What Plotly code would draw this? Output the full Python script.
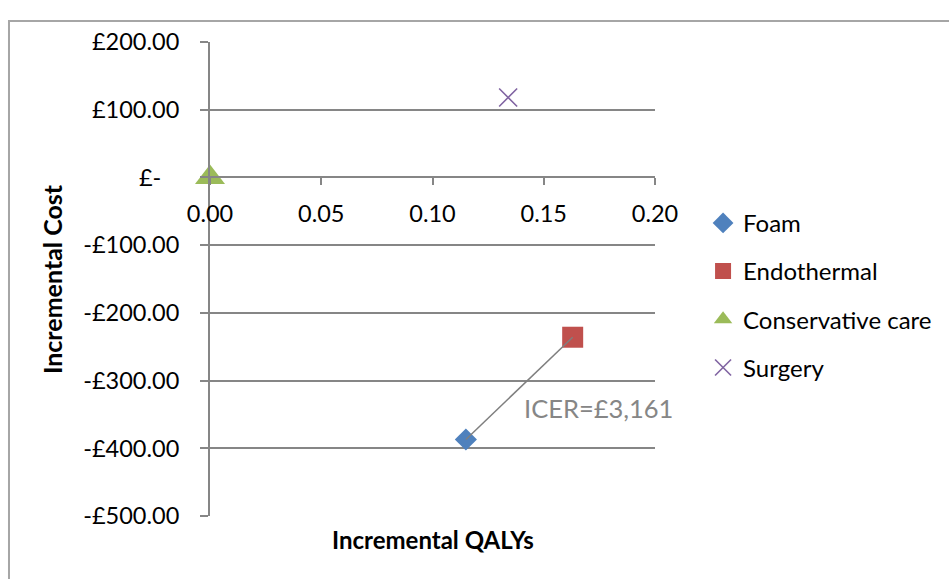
import plotly.graph_objects as go

# ---- data ----
series_names = ["Foam", "Endothermal", "Conservative care", "Surgery"]
qalys = [0.115, 0.163, 0.0, 0.134]
costs = [-387, -236, 0, 118]
colors = ["#4F81BD", "#C0504D", "#9BBB59", "#8064A2"]
symbols = ["diamond", "square", "triangle-up", "x-thin-open"]
sizes = [17, 21, 26, 18]

y_tickvals = [200, 100, 0, -100, -200, -300, -400, -500]
y_ticktext = ["£200.00", "£100.00", "£-\u00a0\u00a0\u00a0", "-£100.00", "-£200.00",
              "-£300.00", "-£400.00", "-£500.00"]
x_tickvals = [0.0, 0.05, 0.10, 0.15, 0.20]
x_ticktext = ["0.00", "0.05", "0.10", "0.15", "0.20"]

icer_label = "ICER=£3,161"
icer_pos = (0.1745, -341)

FONT = "Lato"
GRAY = "#868686"

fig = go.Figure()
for i, name in enumerate(series_names):
    marker = dict(color=colors[i], size=sizes[i], symbol=symbols[i])
    if symbols[i] == "x-thin-open":
        marker["line"] = dict(color=colors[i], width=1.6)
    fig.add_trace(go.Scatter(x=[qalys[i]], y=[costs[i]], mode="markers", name=name,
                             marker=marker, legendgroup=name, cliponaxis=False))

# line between Foam and Endothermal
fig.add_trace(go.Scatter(x=[qalys[0], qalys[1]], y=[costs[0], costs[1]], mode="lines",
                         line=dict(color="#7F7F7F", width=1.5), showlegend=False,
                         hoverinfo="skip"))

y_min, y_max = -500, 200
fig.update_layout(
    width=949, height=579,
    margin=dict(l=210, r=294, t=42, b=63),
    paper_bgcolor="white", plot_bgcolor="white",
    font=dict(family=FONT, size=23, color="black"),
    xaxis=dict(range=[0, 0.2], tickvals=x_tickvals, ticktext=x_ticktext,
               showgrid=False, zeroline=False, showline=True, linecolor=GRAY, linewidth=2,
               ticks="outside", ticklen=7, tickwidth=2, tickcolor=GRAY,
               anchor="free", position=(0 - y_min) / (y_max - y_min),
               ticklabelstandoff=8, tickfont=dict(size=23.5, family=FONT)),
    yaxis=dict(range=[y_min, y_max], tickvals=y_tickvals, ticktext=y_ticktext,
               showgrid=True, gridcolor=GRAY, gridwidth=2, zeroline=False,
               showline=True, linecolor=GRAY, linewidth=2,
               ticks="outside", ticklen=8, tickwidth=2, tickcolor=GRAY,
               ticklabelstandoff=16, tickfont=dict(size=23.5, family=FONT)),
    legend=dict(x=1.108, xanchor="left", y=0.665, yanchor="top",
                font=dict(size=24, family=FONT), tracegroupgap=14,
                traceorder="grouped", bgcolor="rgba(0,0,0,0)"),
    showlegend=True,
)

fig.add_annotation(x=icer_pos[0], y=icer_pos[1], xref="x", yref="y", text=icer_label,
                   showarrow=False, font=dict(size=25.5, color=GRAY, family=FONT))
fig.add_annotation(x=0.5, y=-0.0506, xref="paper", yref="paper", text="<b>Incremental QALYs</b>",
                   showarrow=False, xanchor="center", yanchor="middle",
                   font=dict(size=24, family=FONT))
fig.add_annotation(x=-0.355, y=0.5, xref="paper", yref="paper", text="<b>Incremental Cost</b>",
                   showarrow=False, textangle=-90, xanchor="center", yanchor="middle",
                   font=dict(size=25, family=FONT))

# outer chart border
fig.add_shape(type="rect", xref="paper", yref="paper", x0=-0.4517, x1=1.9, y0=-0.5, y1=1.0443,
              line=dict(color="#A6A6A6", width=2), layer="below")

fig.write_html("out.html", post_script="document.body.style.margin='0';",
               config={"displayModeBar": False})
